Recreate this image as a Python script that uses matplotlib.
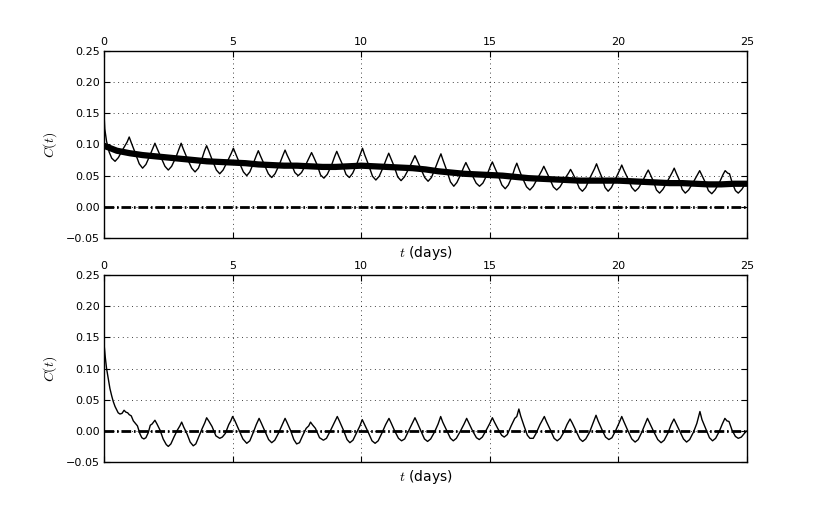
import matplotlib
matplotlib.use("Agg")
import matplotlib.pyplot as plt

plt.rcParams['mathtext.fontset'] = 'cm'
plt.rcParams['font.family'] = ['DejaVu Sans']

# top panel: raw correlation (thin) and its smoothed trend (thick)
t_top = [0.0, 0.03, 0.1, 0.2, 0.3, 0.43,
         0.56, 0.73, 0.90, 0.98, 1.06, 1.2, 1.37, 1.5,
         1.63, 1.78, 1.9, 1.98, 2.06, 2.2, 2.37, 2.5,
         2.63, 2.8, 2.92, 3.0, 3.08, 3.22, 3.41, 3.54,
         3.67, 3.8, 3.91, 3.99, 4.07, 4.2, 4.37, 4.5,
         4.63, 4.8, 4.95, 5.03, 5.11, 5.25, 5.42, 5.55,
         5.67, 5.8, 5.92, 6.0, 6.08, 6.22, 6.39, 6.52,
         6.65, 6.82, 6.96, 7.04, 7.12, 7.26, 7.42, 7.55,
         7.68, 7.85, 7.99, 8.07, 8.15, 8.29, 8.42, 8.55,
         8.68, 8.84, 8.97, 9.05, 9.13, 9.27, 9.41, 9.54,
         9.67, 9.84, 9.97, 10.05, 10.13, 10.28, 10.44, 10.57,
         10.7, 10.86, 10.99, 11.07, 11.15, 11.29, 11.42, 11.55,
         11.68, 11.86, 12.01, 12.09, 12.17, 12.31, 12.47, 12.6,
         12.73, 12.88, 13.02, 13.1, 13.18, 13.32, 13.47, 13.6,
         13.72, 13.87, 13.99, 14.07, 14.15, 14.3, 14.47, 14.6,
         14.73, 14.9, 15.02, 15.1, 15.18, 15.32, 15.47, 15.6,
         15.72, 15.87, 15.97, 16.05, 16.12, 16.25, 16.43, 16.56,
         16.69, 16.86, 17.02, 17.1, 17.18, 17.32, 17.47, 17.6,
         17.73, 17.9, 18.06, 18.14, 18.22, 18.35, 18.48, 18.6,
         18.73, 18.9, 19.07, 19.15, 19.23, 19.36, 19.48, 19.6,
         19.73, 19.9, 20.05, 20.13, 20.21, 20.36, 20.52, 20.65,
         20.78, 20.95, 21.08, 21.16, 21.24, 21.37, 21.48, 21.6,
         21.73, 21.92, 22.09, 22.17, 22.25, 22.38, 22.48, 22.6,
         22.73, 22.92, 23.08, 23.16, 23.24, 23.38, 23.5, 23.63,
         23.76, 23.94, 24.07, 24.15, 24.25, 24.32, 24.43, 24.55, 24.66,
         24.8, 24.92, 25.0]
c_top = [0.150, 0.125, 0.105, 0.088, 0.078, 0.073,
         0.079, 0.092, 0.104, 0.112, 0.103, 0.088, 0.069, 0.062,
         0.068, 0.082, 0.094, 0.102, 0.094, 0.081, 0.065, 0.059,
         0.065, 0.080, 0.093, 0.102, 0.093, 0.079, 0.062, 0.056,
         0.062, 0.076, 0.090, 0.098, 0.090, 0.076, 0.059, 0.053,
         0.059, 0.073, 0.086, 0.094, 0.086, 0.072, 0.056, 0.050,
         0.056, 0.069, 0.082, 0.090, 0.082, 0.069, 0.053, 0.047,
         0.053, 0.068, 0.083, 0.091, 0.083, 0.071, 0.055, 0.050,
         0.055, 0.068, 0.080, 0.087, 0.080, 0.067, 0.051, 0.046,
         0.052, 0.066, 0.081, 0.089, 0.081, 0.068, 0.052, 0.047,
         0.054, 0.070, 0.085, 0.094, 0.084, 0.068, 0.049, 0.043,
         0.049, 0.064, 0.078, 0.086, 0.078, 0.064, 0.048, 0.042,
         0.048, 0.062, 0.075, 0.082, 0.075, 0.062, 0.047, 0.041,
         0.047, 0.062, 0.077, 0.085, 0.075, 0.059, 0.040, 0.033,
         0.039, 0.052, 0.064, 0.071, 0.064, 0.052, 0.038, 0.033,
         0.038, 0.052, 0.065, 0.072, 0.064, 0.051, 0.035, 0.029,
         0.035, 0.049, 0.062, 0.070, 0.062, 0.048, 0.032, 0.027,
         0.033, 0.046, 0.058, 0.065, 0.058, 0.046, 0.032, 0.027,
         0.032, 0.044, 0.054, 0.060, 0.054, 0.043, 0.030, 0.025,
         0.031, 0.047, 0.061, 0.069, 0.060, 0.047, 0.031, 0.025,
         0.031, 0.046, 0.059, 0.067, 0.059, 0.046, 0.031, 0.025,
         0.030, 0.042, 0.053, 0.059, 0.052, 0.040, 0.027, 0.022,
         0.028, 0.042, 0.055, 0.062, 0.054, 0.042, 0.028, 0.022,
         0.027, 0.040, 0.052, 0.058, 0.051, 0.039, 0.026, 0.021,
         0.027, 0.040, 0.052, 0.058, 0.054, 0.053, 0.038, 0.026, 0.022,
         0.028, 0.036, 0.040]

t_trend = [0, 0.5, 1, 1.5, 2, 2.5, 3, 3.5, 4, 4.5, 5, 5.5, 6, 6.5, 7, 7.5,
           8, 8.5, 9, 9.5, 10, 10.5, 11, 11.5, 12, 12.5, 13, 13.5, 14, 14.5,
           15, 15.5, 16, 16.5, 17, 17.5, 18, 18.5, 19, 19.5, 20, 20.5, 21,
           21.5, 22, 22.5, 23, 23.5, 24, 24.5, 25]
c_trend = [0.098, 0.090, 0.086, 0.083, 0.081, 0.079, 0.077, 0.075, 0.073,
           0.072, 0.071, 0.070, 0.068, 0.067, 0.066, 0.066, 0.065, 0.064,
           0.064, 0.065, 0.066, 0.065, 0.064, 0.063, 0.062, 0.060, 0.057,
           0.055, 0.053, 0.052, 0.051, 0.050, 0.048, 0.046, 0.045, 0.044,
           0.043, 0.042, 0.042, 0.042, 0.042, 0.041, 0.040, 0.039, 0.038,
           0.038, 0.037, 0.036, 0.036, 0.037, 0.037]

# bottom panel: detrended correlation
t_bot = [0.0, 0.05, 0.1, 0.17, 0.23, 0.3, 0.36, 0.43, 0.49, 0.55, 0.62, 0.7,
         0.78, 0.85, 0.92, 0.98, 1.06, 1.14, 1.22, 1.3, 1.4, 1.47, 1.55, 1.63,
         1.72, 1.8, 1.87, 1.98, 2.06, 2.18, 2.3, 2.42, 2.5, 2.6, 2.72, 2.85,
         2.95, 3.02, 3.1, 3.22, 3.35, 3.47, 3.57, 3.7, 3.82, 3.92, 3.99, 4.07,
         4.2, 4.35, 4.5, 4.6, 4.72, 4.85, 4.93, 5.0, 5.08, 5.22, 5.4, 5.55,
         5.67, 5.8, 5.92, 6.03, 6.11, 6.25, 6.4, 6.52, 6.64, 6.78, 6.92, 7.04,
         7.12, 7.26, 7.38, 7.49, 7.6, 7.72, 7.86, 7.96, 8.03, 8.1, 8.22, 8.38,
         8.53, 8.65, 8.8, 8.95, 9.07, 9.15, 9.3, 9.45, 9.56, 9.68, 9.82, 9.95,
         10.04, 10.12, 10.27, 10.42, 10.54, 10.66, 10.8, 10.95, 11.08, 11.16,
         11.3, 11.45, 11.57, 11.69, 11.82, 11.97, 12.09, 12.17, 12.31, 12.46,
         12.58, 12.7, 12.85, 12.99, 13.09, 13.17, 13.32, 13.47, 13.58, 13.7,
         13.85, 14.0, 14.1, 14.18, 14.33, 14.48, 14.59, 14.71, 14.86, 15.0,
         15.1, 15.18, 15.32, 15.46, 15.56, 15.68, 15.83, 15.97, 16.05, 16.13,
         16.2, 16.33, 16.46, 16.56, 16.69, 16.8, 16.95, 17.12, 17.2, 17.35,
         17.5, 17.62, 17.74, 17.88, 18.0, 18.12, 18.2, 18.35, 18.5, 18.61,
         18.73, 18.88, 19.02, 19.13, 19.21, 19.36, 19.5, 19.63, 19.75, 19.9,
         20.03, 20.13, 20.21, 20.36, 20.52, 20.65, 20.77, 20.9, 21.03, 21.13,
         21.21, 21.37, 21.53, 21.66, 21.78, 21.92, 22.05, 22.16, 22.24, 22.38,
         22.53, 22.65, 22.77, 22.92, 23.05, 23.17, 23.25, 23.4, 23.54, 23.66,
         23.78, 23.92, 24.04, 24.14, 24.22, 24.3, 24.42, 24.55, 24.66, 24.78,
         24.92, 25.0]
c_bot = [0.140, 0.118, 0.100, 0.083, 0.068, 0.056, 0.047, 0.039, 0.034, 0.029,
         0.027, 0.028, 0.033, 0.030, 0.029, 0.026, 0.024, 0.016, 0.012, 0.008,
         -0.005, -0.011, -0.013, -0.011, -0.003, 0.009, 0.011, 0.017, 0.011,
         0.001, -0.013, -0.022, -0.025, -0.021, -0.010, 0.001, 0.008, 0.014,
         0.006, -0.004, -0.018, -0.024, -0.021, -0.008, 0.004, 0.013, 0.021,
         0.016, 0.007, -0.008, -0.012, -0.010, -0.004, 0.010, 0.016, 0.023,
         0.017, 0.004, -0.013, -0.020, -0.016, -0.003, 0.010, 0.020, 0.013,
         0.000, -0.014, -0.019, -0.015, -0.004, 0.009, 0.020, 0.013, 0.000,
         -0.014, -0.021, -0.019, -0.008, 0.004, 0.008, 0.014, 0.010, 0.004,
         -0.011, -0.015, -0.012, 0.000, 0.013, 0.023, 0.016, 0.002, -0.014,
         -0.019, -0.015, -0.003, 0.008, 0.018, 0.011, -0.002, -0.016, -0.020,
         -0.016, -0.004, 0.010, 0.020, 0.013, 0.000, -0.012, -0.016, -0.013,
         -0.002, 0.011, 0.021, 0.014, 0.001, -0.013, -0.017, -0.013, -0.002,
         0.011, 0.023, 0.014, 0.001, -0.012, -0.016, -0.012, -0.001, 0.011,
         0.020, 0.013, 0.000, -0.011, -0.014, -0.010, 0.001, 0.012, 0.021,
         0.014, 0.003, -0.007, -0.010, -0.006, 0.008, 0.020, 0.023, 0.035,
         0.024, 0.008, -0.007, -0.012, -0.012, -0.004, 0.010, 0.023, 0.015,
         0.002, -0.012, -0.016, -0.012, -0.002, 0.010, 0.019, 0.013, 0.000,
         -0.013, -0.017, -0.013, -0.002, 0.013, 0.025, 0.016, 0.002, -0.010,
         -0.014, -0.011, 0.001, 0.013, 0.023, 0.015, 0.001, -0.013, -0.018,
         -0.014, -0.003, 0.010, 0.020, 0.013, -0.001, -0.014, -0.019, -0.015,
         -0.004, 0.010, 0.019, 0.012, 0.000, -0.013, -0.018, -0.014, -0.002,
         0.012, 0.031, 0.018, 0.003, -0.011, -0.016, -0.012, -0.001, 0.011,
         0.020, 0.016, 0.015, 0.001, -0.009, -0.012, -0.010, -0.003, 0.000]

x_ticks = [0, 5, 10, 15, 20, 25]
y_ticks = [-0.05, 0.00, 0.05, 0.10, 0.15, 0.20, 0.25]

fig = plt.figure(figsize=(8.3, 5.13), dpi=100)
ax1 = fig.add_axes([0.1253, 0.5361, 0.7747, 0.3645])
ax2 = fig.add_axes([0.1253, 0.0994, 0.7747, 0.3645])

ax1.plot(t_top, c_top, color='k', lw=1.0)
ax1.plot(t_trend, c_trend, color='k', lw=4.5)
ax2.plot(t_bot, c_bot, color='k', lw=1.0)

for ax in (ax1, ax2):
    ax.axhline(0, color='k', lw=2, dashes=(3.5, 1.0, 0.6, 1.0))
    ax.set_xlim(0, 25)
    ax.set_ylim(-0.05, 0.25)
    ax.set_xticks(x_ticks)
    ax.set_yticks(y_ticks)
    ax.set_yticklabels([('%.2f' % v).replace('-', '\u2212') for v in y_ticks])
    ax.grid(True, color='k', lw=0.6, dashes=(1, 4.5))
    ax.tick_params(direction='in', top=True, bottom=True, left=True, right=True,
                   labeltop=True, labelbottom=False, labelsize=8, length=4, pad=3)
    ax.set_xlabel('$t$ (days)', fontsize=10, labelpad=4)
    ax.set_ylabel('$C(t)$', fontsize=10, labelpad=5)
    for s in ax.spines.values():
        s.set_linewidth(1.0)

fig.savefig('out.png', dpi=100, facecolor='white')
